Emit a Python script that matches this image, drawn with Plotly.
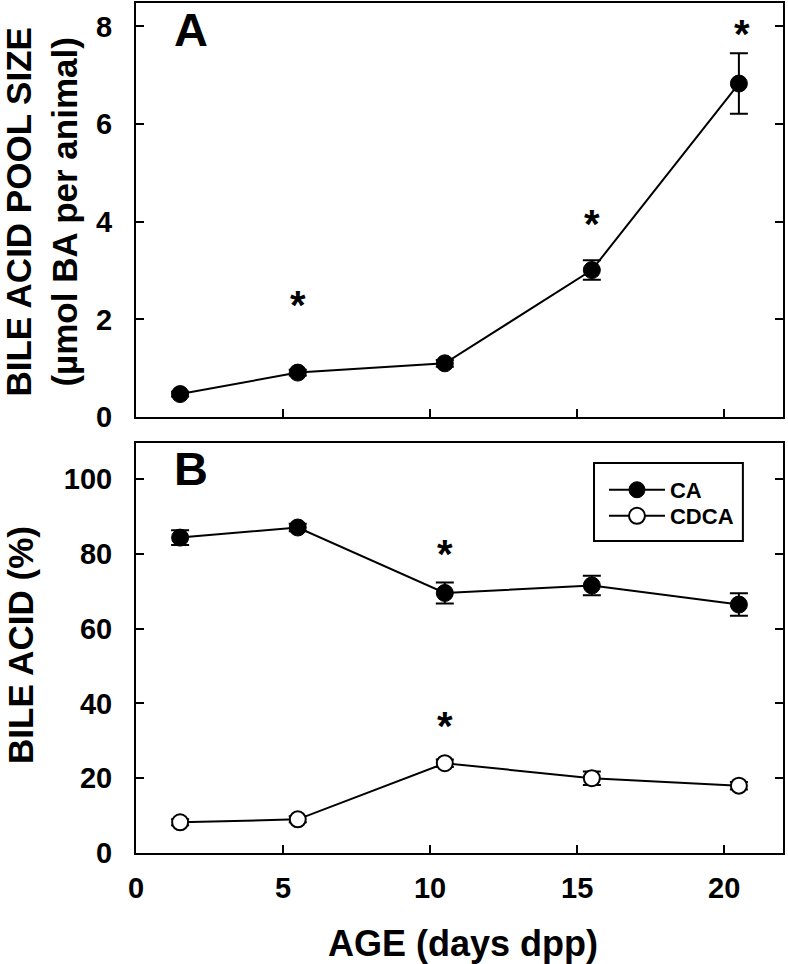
import plotly.graph_objects as go

age = [1.5, 5.5, 10.5, 15.5, 20.5]
pool = [0.47, 0.91, 1.10, 3.01, 6.83]
pool_err = [0.05, 0.06, 0.07, 0.20, 0.62]
ca = [84.3, 87.0, 69.5, 71.5, 66.4]
ca_err = [2.0, 1.0, 2.8, 2.6, 3.0]
cdca = [8.2, 9.0, 24.0, 20.0, 18.0]
cdca_err = [0.8, 0.8, 1.0, 1.8, 1.0]
star_a_x = [5.5, 15.5, 20.6]
star_a_y = [2.3, 3.95, 7.85]
star_b_x = [10.5, 10.5]
star_b_y = [80.0, 34.0]
x_ticks = [0, 5, 10, 15, 20]
ya_ticks = [0, 2, 4, 6, 8]
yb_ticks = [0, 20, 40, 60, 80, 100]

FONT = "Liberation Sans"
BOLD = dict(family=FONT, color="black", weight="bold")
fig = go.Figure()

fig.add_trace(go.Scatter(
    x=age, y=pool, mode="lines+markers", showlegend=False,
    line=dict(color="black", width=2),
    marker=dict(size=17, color="black", line=dict(color="black", width=1)),
    error_y=dict(type="data", array=pool_err, color="black", thickness=2, width=9),
    xaxis="x", yaxis="y"))

fig.add_trace(go.Scatter(
    x=age, y=ca, mode="lines+markers", name="CA", legend="legend",
    line=dict(color="black", width=2),
    marker=dict(size=17, color="black", line=dict(color="black", width=1)),
    error_y=dict(type="data", array=ca_err, color="black", thickness=2, width=9),
    xaxis="x2", yaxis="y2"))

fig.add_trace(go.Scatter(
    x=age, y=cdca, mode="lines+markers", name="CDCA", legend="legend2",
    line=dict(color="black", width=2),
    marker=dict(size=16, color="white", line=dict(color="black", width=2)),
    error_y=dict(type="data", array=cdca_err, color="black", thickness=2, width=9),
    xaxis="x2", yaxis="y2"))

for sx, sy in zip(star_a_x, star_a_y):
    fig.add_annotation(x=sx, y=sy, xref="x", yref="y", text="*", showarrow=False,
                       font=dict(size=40, **BOLD))
for sx, sy in zip(star_b_x, star_b_y):
    fig.add_annotation(x=sx, y=sy, xref="x2", yref="y2", text="*", showarrow=False,
                       font=dict(size=40, **BOLD))

# panel letters
fig.add_annotation(x=0.085, y=0.9694, xref="paper", yref="paper", text="A", showarrow=False,
                   xanchor="center", yanchor="middle", font=dict(size=47, **BOLD))
fig.add_annotation(x=0.085, y=0.4529, xref="paper", yref="paper", text="B", showarrow=False,
                   xanchor="center", yanchor="middle", font=dict(size=47, **BOLD))

# axis titles
fig.add_annotation(x=-0.1461, y=0.754, xref="paper", yref="paper",
                   text="BILE ACID POOL SIZE<br>(µmol BA per animal)", showarrow=False,
                   textangle=-90, xanchor="center", yanchor="middle",
                   font=dict(size=35, **BOLD))
fig.add_annotation(x=-0.1794, y=0.2447, xref="paper", yref="paper",
                   text="BILE ACID (%)", showarrow=False,
                   textangle=-90, xanchor="center", yanchor="middle",
                   font=dict(size=35, **BOLD))
fig.add_annotation(x=0.5054, y=-0.107, xref="paper", yref="paper",
                   text="AGE (days dpp)", showarrow=False,
                   xanchor="center", yanchor="middle",
                   font=dict(size=36, **BOLD))

# legend frame
fig.add_shape(type="rect", xref="paper", yref="paper",
              x0=0.7079, x1=0.938, y0=0.367, y1=0.4588,
              line=dict(color="black", width=2), fillcolor="white", layer="below")

axis_common = dict(showline=True, linecolor="black", linewidth=2, ticks="inside",
                   ticklen=8, tickwidth=2, tickcolor="black", showgrid=False, zeroline=False,
                   automargin=False, tickfont=dict(size=29, **BOLD))

leg_common = dict(xanchor="left", yanchor="middle", borderwidth=0,
                  bgcolor="rgba(0,0,0,0)", font=dict(size=22, **BOLD), itemwidth=56)

fig.update_layout(
    template="none",
    width=788, height=964, autosize=False,
    paper_bgcolor="white", plot_bgcolor="white",
    margin=dict(l=136, r=5, t=3, b=111),
    font=dict(family=FONT, color="black"),
    xaxis=dict(domain=[0, 1], range=[0, 22], anchor="y", tickvals=x_ticks,
               showticklabels=False, mirror=True, **axis_common),
    yaxis=dict(domain=[0.5129, 1], range=[0, 8.48], anchor="x", tickvals=ya_ticks,
               mirror="ticks", ticklabelstandoff=16, **axis_common),
    xaxis2=dict(domain=[0, 1], range=[0, 22], anchor="y2", tickvals=x_ticks,
                mirror=True, ticklabelstandoff=8, **axis_common),
    yaxis2=dict(domain=[0, 0.4824], range=[0, 109.6], anchor="x2",
                tickvals=yb_ticks, mirror="ticks", ticklabelstandoff=16, **axis_common),
    showlegend=True,
    legend=dict(x=0.7233, y=0.4271, **leg_common),
    legend2=dict(x=0.7233, y=0.3965, **leg_common),
)

fig.write_html("out.html", config={"responsive": False, "displayModeBar": False},
               post_script="document.body.style.margin='0';document.body.style.overflow='hidden';")
